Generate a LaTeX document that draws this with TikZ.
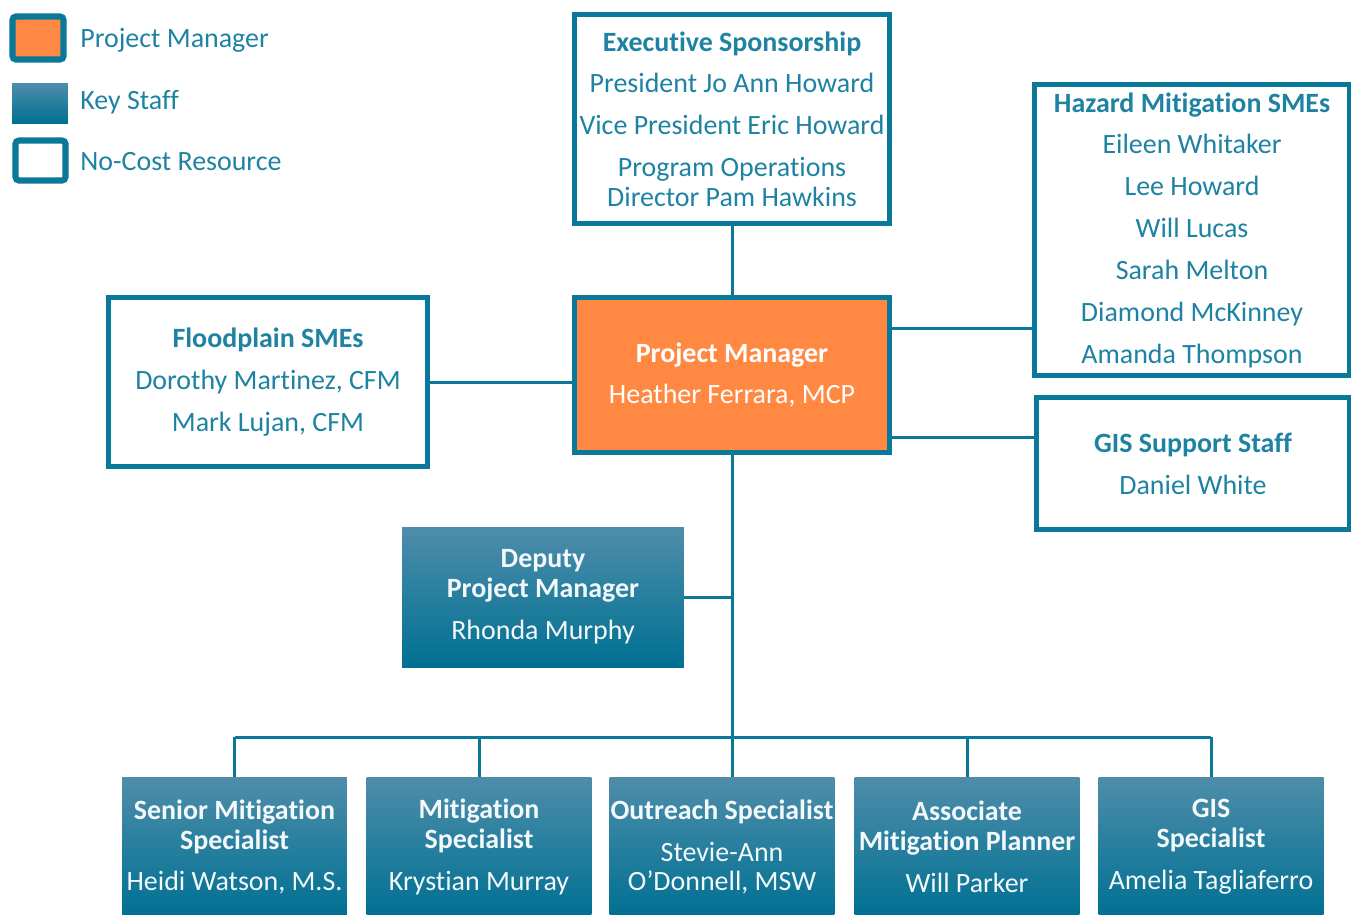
\documentclass[tikz,border=0pt]{standalone}
\usepackage{fontspec}
\setmainfont{Carlito}[Ligatures=NoCommon]
\usetikzlibrary{positioning}
\usetikzlibrary{calc}
\definecolor{teal1}{RGB}{10,120,152}
\definecolor{teal2}{RGB}{30,130,162}
\definecolor{pmorange}{RGB}{255,137,66}
\definecolor{gradtop}{RGB}{78,141,170}
\definecolor{gradmid}{RGB}{14,122,155}
\definecolor{gradbot}{RGB}{0,112,146}
\tikzset{every picture/.style={x=0.02cm,y=-0.02cm},
  txt/.style={font=\fontsize{15.9}{17}\selectfont,align=flush center,inner sep=0pt},
  freebox/.style={txt,draw=teal1,line width=2.8pt,fill=white,text=teal2},
  pmbox/.style={txt,draw=teal1,line width=2.8pt,fill=pmorange,text=white},
  keybox/.style={txt,top color=gradtop,middle color=gradmid,bottom color=gradbot,text=white!95!teal1},
  link/.style={draw=teal1,line width=1.7pt}}

\begin{document}
\begin{tikzpicture}
\useasboundingbox (0,0) rectangle (1351,914);
\clip (0,0) rectangle (1351,914);

% legend
\node (kpm) at (38,38) [pmbox,minimum width=1.02cm,minimum height=0.86cm,line width=3.5pt,rounded corners=2pt] {};
\node (kks) at (40,103) [keybox,minimum width=1.12cm,minimum height=0.8cm] {};
\node (knc) at (40.5,160.5) [freebox,minimum width=1.0cm,minimum height=0.8cm,line width=3.5pt,rounded corners=2pt] {};
\node (lpm) at (80,40) [txt,anchor=west,text=teal2] {Project Manager};
\node (lks) at (80,102) [txt,anchor=west,text=teal2] {Key Staff};
\node (lnc) at (80,162) [txt,anchor=west,text=teal2] {No-Cost Resource};

% top part
\node (exec) at (732,119) [freebox,minimum width=6.3cm,minimum height=4.18cm,text width=6.3cm] {\textbf{Executive Sponsorship}\\[6.8pt]President Jo Ann Howard\\[6.8pt]Vice President Eric Howard\\[6.8pt]Program Operations\\Director Pam Hawkins};
\node (pm) at (732,375) [pmbox,minimum width=6.3cm,minimum height=3.1cm,text width=6.3cm] {\textbf{Project Manager}\\[6.8pt]Heather Ferrara, MCP};
\node (flood) at (268,382) [freebox,minimum width=6.38cm,minimum height=3.38cm,text width=6.38cm] {\textbf{Floodplain SMEs}\\[6.8pt]Dorothy Martinez, CFM\\[6.8pt]Mark Lujan, CFM};
\node (hazard) at (1192,230) [freebox,minimum width=6.3cm,minimum height=5.82cm,text width=6.3cm] {\textbf{Hazard Mitigation SMEs}\\[6.8pt]Eileen Whitaker\\[6.8pt]Lee Howard\\[6.8pt]Will Lucas\\[6.8pt]Sarah Melton\\[6.8pt]Diamond McKinney\\[6.8pt]Amanda Thompson};
\node (gis) at (1193,463.5) [freebox,minimum width=6.26cm,minimum height=2.64cm,text width=6.26cm] {\textbf{GIS Support Staff}\\[6.8pt]Daniel White};
\node (dpm) at (543,597) [keybox,minimum width=5.64cm,minimum height=2.8cm,text width=5.64cm] {\textbf{Deputy}\\\textbf{Project Manager}\\[6.8pt]Rhonda Murphy};

\coordinate (pmhz) at ($(pm.north east)!0.21!(pm.south east)$);
\coordinate (pmgis) at ($(pm.north east)!0.89!(pm.south east)$);
\coordinate (bus) at (732,737);
\draw[link] (exec.south) -- (pm.north);
\draw[link] (flood.east) -- (flood.east -| pm.west);
\draw[link] (pmhz) -- (pmhz -| hazard.west);
\draw[link] (pmgis) -- (pmgis -| gis.west);
\draw[link] (pm.south) -- (bus);
\draw[link] (dpm.east) -- (dpm.east -| pm.south);

% key staff row
\foreach \x/\ttl/\who [count=\i] in {234.5/{Senior Mitigation\\Specialist}/{Heidi Watson, M.S.},
    479/{Mitigation\\Specialist}/{Krystian Murray},
    722/{Outreach Specialist}/{Stevie-Ann\\O’Donnell, MSW},
    967/{Associate\\Mitigation Planner}/{Will Parker},
    1211/{GIS\\Specialist}/{Amelia Tagliaferro}} {
\node (b\i) at (\x,847) [keybox,minimum width=4.5cm,minimum height=2.78cm,text width=4.5cm] {{\bfseries\ttl}\\[6.8pt]\who};
}
\draw[link] (b1.north |- bus) -- (b5.north |- bus);
\foreach \i in {1,2,4,5} {
\draw[link] (b\i.north |- bus) -- (b\i.north);
}
\draw[link] (bus) -- (bus |- b3.north);

\end{tikzpicture}
\end{document}
